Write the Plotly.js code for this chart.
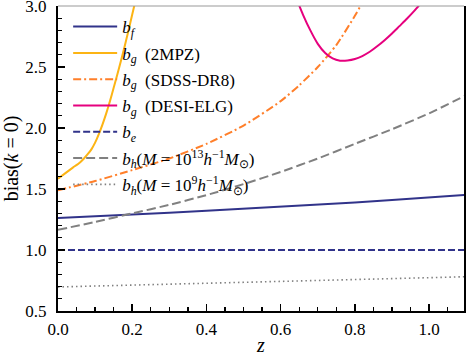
<!DOCTYPE html>
<html>
<head>
<meta charset="utf-8">
<script src="https://cdn.plot.ly/plotly-3.0.1.min.js"></script>
</head>
<body style="margin:0">
<div id="chart" style="width:469px;height:356px"></div>
<script>
// bias curves
var zFull = [0, 0.1, 0.2, 0.3, 0.4, 0.5, 0.6, 0.7, 0.8, 0.9, 1.0, 1.1];
var bF = [1.262, 1.275, 1.29, 1.305, 1.322, 1.338, 1.355, 1.372, 1.39, 1.41, 1.43, 1.452];
var bE = [1, 1, 1, 1, 1, 1, 1, 1, 1, 1, 1, 1];
var bH13 = [1.165, 1.23, 1.30, 1.37, 1.45, 1.54, 1.64, 1.75, 1.87, 1.99, 2.12, 2.27];
var bH9 = [0.697, 0.704, 0.711, 0.718, 0.725, 0.733, 0.741, 0.749, 0.757, 0.765, 0.773, 0.781];

var z2mpz = [0, 0.02, 0.04, 0.06, 0.07, 0.08, 0.09, 0.10, 0.11, 0.12, 0.13, 0.14, 0.15, 0.16, 0.17, 0.18, 0.19, 0.20, 0.21];
var b2mpz = [1.585, 1.63, 1.675, 1.72, 1.75, 1.785, 1.825, 1.88, 1.95, 2.03, 2.12, 2.22, 2.33, 2.44, 2.555, 2.675, 2.80, 2.93, 3.06];

var zSdss = [0, 0.1, 0.2, 0.3, 0.4, 0.5, 0.6, 0.65, 0.7, 0.75, 0.8, 0.83];
var bSdss = [1.49, 1.565, 1.655, 1.75, 1.87, 2.02, 2.22, 2.35, 2.50, 2.68, 2.92, 3.08];

var zDesi = [0.64, 0.66, 0.68, 0.70, 0.72, 0.74, 0.76, 0.78, 0.80, 0.82, 0.84, 0.86, 0.88, 0.90, 0.92, 0.94, 0.96, 0.98];
var bDesi = [3.08, 2.93, 2.80, 2.69, 2.615, 2.57, 2.552, 2.553, 2.565, 2.59, 2.625, 2.67, 2.72, 2.775, 2.835, 2.895, 2.96, 3.03];

var navy = '#31338a', gray = '#808080';

var data = [
  {x: zFull, y: bF, name: '<i>b</i><sub><i>f</i></sub>', line: {color: navy, width: 2}},
  {x: z2mpz, y: b2mpz, name: '<i>b</i><sub><i>g</i></sub>  (2MPZ)', line: {color: '#fcb414', width: 2, shape: 'spline', smoothing: 0.6}},
  {x: zSdss, y: bSdss, name: '<i>b</i><sub><i>g</i></sub>  (SDSS-DR8)', line: {color: '#ff7f2a', width: 2, dash: '8px,3px,2px,3px', shape: 'spline', smoothing: 0.6}},
  {x: zDesi, y: bDesi, name: '<i>b</i><sub><i>g</i></sub>  (DESI-ELG)', line: {color: '#e6007e', width: 2, shape: 'spline', smoothing: 0.6}},
  {x: zFull, y: bE, name: '<i>b</i><sub><i>e</i></sub>', line: {color: navy, width: 2, dash: '7px,3px'}},
  {x: zFull, y: bH13, name: '<i>b</i><sub><i>h</i></sub>(<i>M</i> = 10<sup>13</sup><i>h</i><sup>−1</sup><i>M</i><sub>⊙</sub>)', line: {color: gray, width: 2, dash: '9px,4px', shape: 'spline', smoothing: 0.6}},
  {x: zFull, y: bH9, name: '<i>b</i><sub><i>h</i></sub>(<i>M</i> = 10<sup>9</sup><i>h</i><sup>−1</sup><i>M</i><sub>⊙</sub>)', line: {color: gray, width: 1.6, dash: '1.5px,3px'}}
];
data.forEach(function (t, i) { t.type = 'scatter'; t.mode = 'lines'; t.legendgroup = 'g' + i; });

var layout = {
  width: 469,
  height: 356,
  margin: {l: 58, r: 5, t: 6, b: 45},
  font: {family: 'Liberation Serif', size: 17, color: '#000'},
  showlegend: true,
  legend: {x: 0.025, y: 0.99, xanchor: 'left', yanchor: 'top', bgcolor: 'rgba(0,0,0,0)',
    itemwidth: 44, tracegroupgap: 1.2},
  xaxis: {
    range: [0, 1.094], showgrid: false, zeroline: false,
    showline: true, linecolor: 'black', linewidth: 2,
    ticks: 'inside', ticklen: 7, tickwidth: 1.5, tickcolor: 'black',
    dtick: 0.2, tickformat: '.1f', ticklabelstandoff: 2,
    minor: {ticks: 'inside', ticklen: 4, tickwidth: 1.3, tickcolor: 'black', dtick: 0.05},
    title: {text: '<i>z</i>', standoff: 6}
  },
  yaxis: {
    range: [0.4999, 3.0001], showgrid: false, zeroline: false,
    showline: true, linecolor: 'black', linewidth: 2, mirror: true,
    ticks: 'inside', ticklen: 7, tickwidth: 1.5, tickcolor: 'black',
    dtick: 0.5, tickformat: '.1f', ticklabelstandoff: 6, ticklabeloverflow: 'allow',
    minor: {ticks: 'inside', ticklen: 4, tickwidth: 1.3, tickcolor: 'black', dtick: 0.1},
    title: {text: 'bias(<i>k</i> = 0)', standoff: 4}
  },
  shapes: [{type: 'line', xref: 'paper', yref: 'paper', x0: 0, x1: 1, y0: 1, y1: 1,
    line: {color: '#999999', width: 1}}]
};

Plotly.newPlot('chart', data, layout, {staticPlot: true});
</script>
</body>
</html>
